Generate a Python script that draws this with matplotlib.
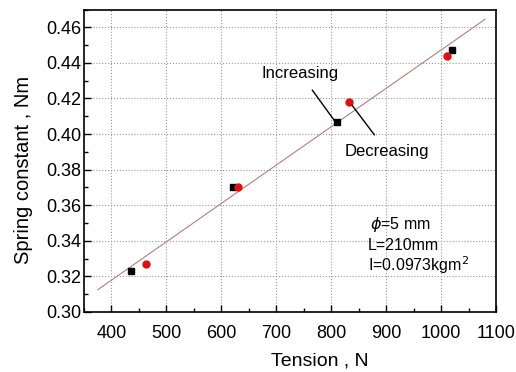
import matplotlib
matplotlib.use("Agg")
import matplotlib.pyplot as plt
from matplotlib.ticker import MultipleLocator

inc_x = [435, 622, 810, 1020]
inc_y = [0.323, 0.370, 0.407, 0.447]
dec_x = [462, 630, 833, 1010]
dec_y = [0.327, 0.370, 0.418, 0.444]
fit_x = [375, 1080]
fit_y = [0.3125, 0.4645]

plt.rcParams['font.family'] = ['Liberation Sans', 'DejaVu Sans']
fig = plt.figure(figsize=(5.16, 3.72), dpi=100)
ax = fig.add_axes([84/516, 1-312/372, (496-84)/516, (312-9.5)/372])

ax.plot(fit_x, fit_y, color='#b08080', lw=0.8, zorder=2)
ax.plot(inc_x, inc_y, 's', color='black', ms=5, zorder=3)
ax.plot(dec_x, dec_y, 'o', color='#e01010', ms=5, zorder=3)

ax.set_xlim(350, 1100)
ax.set_ylim(0.30, 0.47)
ax.xaxis.set_major_locator(MultipleLocator(100))
ax.xaxis.set_minor_locator(MultipleLocator(50))
ax.yaxis.set_major_locator(MultipleLocator(0.02))
ax.yaxis.set_minor_locator(MultipleLocator(0.01))
ax.yaxis.set_major_formatter(matplotlib.ticker.FormatStrFormatter('%.2f'))
ax.tick_params(which='both', direction='in', top=False, right=False, labelsize=13)
ax.tick_params(axis='x', which='major', pad=9)
ax.tick_params(axis='y', which='major', pad=2)
ax.tick_params(which='major', length=5, width=1)
ax.tick_params(which='minor', length=3, width=1)
ax.grid(True, which='major', ls=':', color='#999999', lw=0.8)
for s in ax.spines.values():
    s.set_linewidth(1.2)

ax.set_xlabel('Tension , N', fontsize=14)
ax.set_ylabel('Spring constant , Nm', fontsize=14.5)
ax.xaxis.set_label_coords(0.573, -(353-312)/302.5)
ax.yaxis.set_label_coords(-(84-33)/412, 0.47)

ax.annotate('Increasing', xy=(806, 0.4075), xytext=(743, 0.4343),
            ha='center', va='center', fontsize=12,
            arrowprops=dict(arrowstyle='-', color='black', lw=1,
                            shrinkA=6, shrinkB=0))
ax.annotate('Decreasing', xy=(835, 0.4174), xytext=(902, 0.390),
            ha='center', va='center', fontsize=12,
            arrowprops=dict(arrowstyle='-', color='black', lw=1,
                            shrinkA=6, shrinkB=2))

ax.text(870, 0.349, r'$\phi$=5 mm', fontsize=11.5, ha='left', va='center')
ax.text(867, 0.3373, 'L=210mm', fontsize=11.5, ha='left', va='center')
ax.text(867, 0.3266, 'I=0.0973kgm$^2$', fontsize=11.5, ha='left', va='center')

fig.savefig('out.png', dpi=100)
